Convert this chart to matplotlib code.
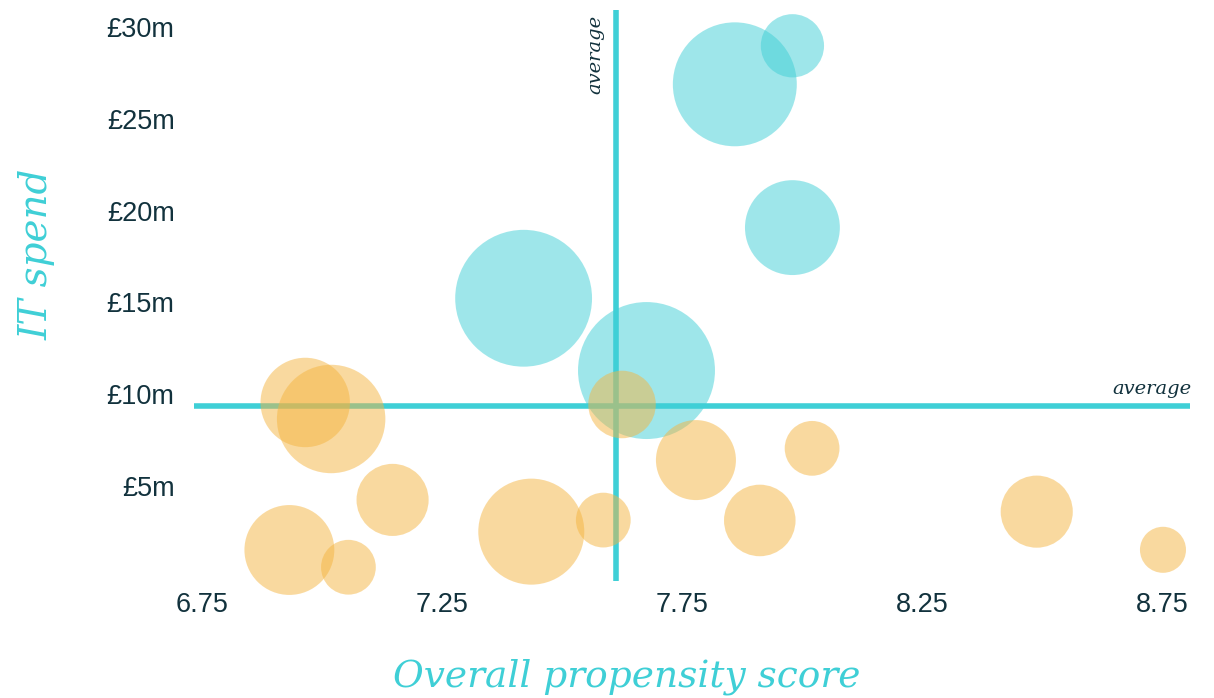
import matplotlib
matplotlib.use("Agg")
import matplotlib.pyplot as plt

# Overall propensity score (x), IT spend in £m (y), bubble magnitude (size)
cyan_score = [7.86, 7.98, 7.98, 7.42, 7.676]
cyan_spend = [26.88, 28.98, 19.07, 15.22, 11.28]
cyan_size = [38.4, 10.0, 22.5, 46.8, 46.9]

amber_score = [6.965, 7.019, 7.625, 7.779, 8.021, 7.147, 7.436,
               7.586, 6.932, 7.055, 7.912, 8.489, 8.752]
amber_spend = [9.54, 8.64, 9.43, 6.40, 7.04, 4.23, 2.50,
               3.13, 1.50, 0.56, 3.11, 3.59, 1.51]
amber_size = [20.0, 29.4, 11.4, 16.0, 7.5, 13.0, 28.1,
              7.5, 20.2, 7.5, 12.8, 13.0, 5.3]

avg_score = 7.6125
avg_spend = 9.34

x_ticks = [6.75, 7.25, 7.75, 8.25, 8.75]
x_tick_labels = ["6.75", "7.25", "7.75", "8.25", "8.75"]
y_ticks = [5, 10, 15, 20, 25, 30]
y_tick_labels = ["£5m", "£10m", "£15m", "£20m", "£25m", "£30m"]

TEAL = "#3FCFD6"
AMBER = "#F5B541"
INK = "#12323D"

W, H = 1214, 698
fig = plt.figure(figsize=(W / 100, H / 100), dpi=100)
fig.patch.set_facecolor("white")

# axes box in pixels: left 194, right 1190, top 10, bottom 581
ax = fig.add_axes([194 / W, (H - 581) / H, 996 / W, 571 / H])
ax.set_xlim(6.7333, 8.8083)
ax.set_ylim(-0.19, 30.93)
for s in ax.spines.values():
    s.set_visible(False)
ax.set_facecolor("none")

# average reference lines
ax.axvline(avg_score, color=TEAL, lw=4.0, solid_capstyle="butt", zorder=1)
ax.axhline(avg_spend, color=TEAL, lw=4.0, solid_capstyle="butt", zorder=1)

# bubble area scale (points^2 per unit of magnitude)
k = 207.36
ax.scatter(cyan_score, cyan_spend, s=[v * k for v in cyan_size],
           color=TEAL, alpha=0.5, linewidths=0, zorder=2, clip_on=False)
ax.scatter(amber_score, amber_spend, s=[v * k for v in amber_size],
           color=AMBER, alpha=0.5, linewidths=0, zorder=3, clip_on=False)

ax.set_xticks(x_ticks)
ax.set_xticklabels(x_tick_labels)
ax.set_yticks(y_ticks)
ax.set_yticklabels(y_tick_labels)
ax.tick_params(axis="both", length=0, labelsize=19.5, labelcolor=INK)
ax.tick_params(axis="x", pad=8)
ax.tick_params(axis="y", pad=14)
for lab in ax.get_xticklabels() + ax.get_yticklabels():
    lab.set_fontfamily("Liberation Sans")

serif_it = dict(family="DejaVu Serif", style="italic")

# "average" markers on the reference lines
ax.annotate("average", xy=(avg_score, 1.0), xycoords=("data", "axes fraction"),
            xytext=(-16, -5), textcoords="offset pixels",
            rotation=90, rotation_mode="anchor", ha="right", va="baseline",
            fontsize=14, color=INK, **serif_it)
ax.annotate("average", xy=(1.0, avg_spend), xycoords=("axes fraction", "data"),
            xytext=(1, 12), textcoords="offset pixels",
            ha="right", va="baseline",
            fontsize=14, color=INK, **serif_it)

# axis titles
fig.text(626.5 / W, (H - 686.7) / H, "Overall propensity score",
         ha="center", va="baseline", fontsize=27, color=TEAL, **serif_it)
fig.text(48 / W, (H - 254) / H, "IT spend", rotation=90, rotation_mode="anchor",
         ha="center", va="baseline", fontsize=28, color=TEAL, **serif_it)

fig.savefig("out.png", dpi=100, facecolor="white")
